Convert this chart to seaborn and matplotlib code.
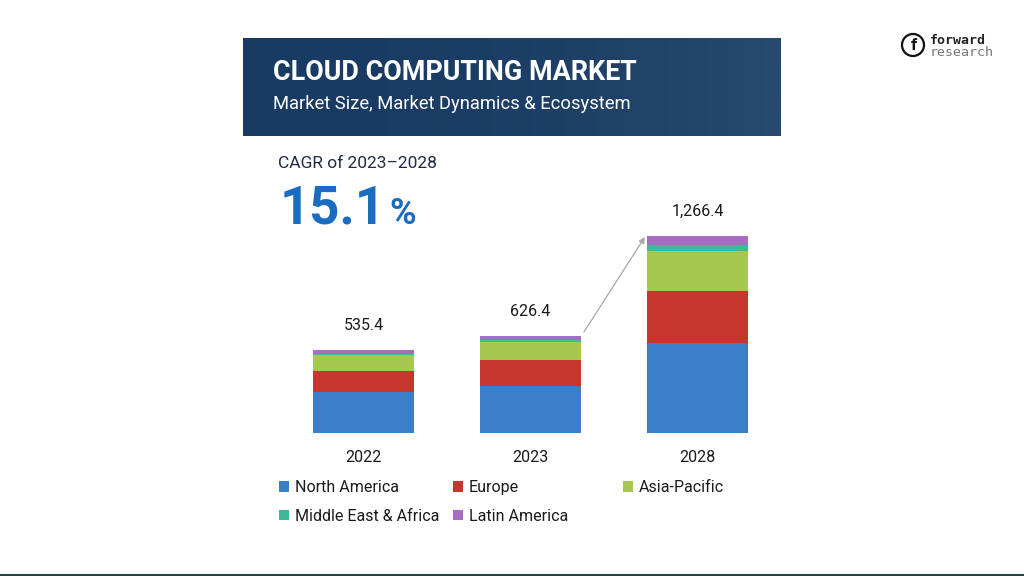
import numpy as np
import pandas as pd
import seaborn as sns
import matplotlib.pyplot as plt
import matplotlib.patches as mpatches
from matplotlib.transforms import IdentityTransform

# ---- data (USD billion) ----
YEARS = ["2022", "2023", "2028"]
TOTALS = [535.4, 626.4, 1266.4]
TOTAL_LABELS = ["535.4", "626.4", "1,266.4"]
NORTH_AMERICA = [262.0, 305.0, 576.0]
EUROPE = [139.0, 162.0, 336.0]
ASIA_PACIFIC = [98.0, 116.0, 259.0]
MIDDLE_EAST_AFRICA = [11.0, 13.4, 41.0]
LATIN_AMERICA = [25.4, 30.0, 54.4]

REGIONS = ["North America", "Europe", "Asia-Pacific",
           "Middle East & Africa", "Latin America"]
COLORS = {
    "North America": "#3a7ec5",
    "Europe": "#c7362c",
    "Asia-Pacific": "#a6c84f",
    "Middle East & Africa": "#3cb89b",
    "Latin America": "#a86cc0",
}

W, H = 1024, 576


def fx(x):
    return x / W


def fy(y):
    return 1 - y / H


sns.set_theme(style="white")
plt.rcParams["font.family"] = ["Roboto", "DejaVu Sans"]

fig = plt.figure(figsize=(W / 100, H / 100), dpi=100)
fig.patch.set_facecolor("white")

# ---- header band, dark navy with a faint lift toward the right ----
hax = fig.add_axes([fx(243), fy(136), (781 - 243) / W, (136 - 38) / H])
grad = np.linspace(0, 1, 256)[None, :]
c0 = np.array([0x19, 0x3a, 0x62]) / 255
c1 = np.array([0x27, 0x4a, 0x70]) / 255
t = grad[..., None] ** 2.0
img = c0[None, None, :] * (1 - t) + c1[None, None, :] * t
hax.imshow(img, aspect="auto", extent=(0, 1, 0, 1))
hax.set_axis_off()

fig.text(fx(273), fy(72), "CLOUD COMPUTING MARKET", color="white",
         fontsize=19.4, fontweight="bold", va="center", ha="left")
fig.text(fx(273), fy(104), "Market Size, Market Dynamics & Ecosystem",
         color="white", fontsize=13.2, va="center", ha="left")

# ---- CAGR callout ----
fig.text(fx(278), fy(163), "CAGR of 2023\u20132028", color="#1f2a44",
         fontsize=12.5, va="center", ha="left")
fig.text(fx(280), fy(224), "15.1", color="#1a6cc1", fontsize=38,
         fontweight="bold", va="baseline", ha="left")
fig.text(fx(389), fy(224), "%", color="#1a6cc1", fontsize=26,
         fontweight="bold", va="baseline", ha="left")

# ---- stacked bars ----
ax = fig.add_axes([fx(280), fy(433), 501 / W, 217.7 / H])
df = pd.DataFrame({
    "year": YEARS,
    "North America": NORTH_AMERICA,
    "Europe": EUROPE,
    "Asia-Pacific": ASIA_PACIFIC,
    "Middle East & Africa": MIDDLE_EAST_AFRICA,
    "Latin America": LATIN_AMERICA,
})
cum = df[REGIONS].cumsum(axis=1)

# draw tallest cumulative first so lower segments sit on top
for reg in REGIONS[::-1]:
    sns.barplot(x=df["year"], y=cum[reg], color=COLORS[reg], saturation=1,
                width=0.61, ax=ax, linewidth=0)

for i, (tot, lab) in enumerate(zip(TOTALS, TOTAL_LABELS)):
    ax.annotate(lab, xy=(i, tot), xytext=(0, 17.5), textcoords="offset points",
                ha="center", va="center", fontsize=11.5, color="#1a1a1a")

ax.annotate("", xy=(2 - 0.305 - 0.01, TOTALS[2] - 6),
            xytext=(1 + 0.305 + 0.015, TOTALS[1] + 23),
            arrowprops=dict(arrowstyle="-|>", color="#a8a8a8", lw=0.9,
                            mutation_scale=9, shrinkA=0, shrinkB=0))

ax.set_xlim(-0.5, 2.5)
ax.set_ylim(0, 1400)
ax.set_yticks([])
ax.set_xlabel("")
ax.set_ylabel("")
ax.tick_params(axis="x", length=0, pad=12.5, labelsize=11.5, labelcolor="#1a1a1a")
ax.set_facecolor("none")
sns.despine(ax=ax, left=True, bottom=True)

# ---- legend, three fixed columns ----
cols = [["North America", "Middle East & Africa"],
        ["Europe", "Latin America"],
        ["Asia-Pacific"]]
col_x = [279, 453, 623]
for names, x0 in zip(cols, col_x):
    handles = [mpatches.Patch(facecolor=COLORS[n], edgecolor="none", label=n)
               for n in names]
    fig.legend(handles=handles, loc="upper left",
               bbox_to_anchor=(fx(x0), fy(480)), frameon=False,
               fontsize=11.5, handlelength=0.65, handleheight=0.65,
               handletextpad=0.35, labelspacing=0.85, borderpad=0,
               borderaxespad=0, labelcolor="#1a1a1a")

# ---- logo ----
fig.patches.append(mpatches.Circle((913, H - 45), 11, transform=IdentityTransform(),
                                   fill=False, edgecolor="#111111", lw=1.6))
fig.text(fx(913.5), fy(45.5), "f", fontsize=12.5, fontweight="bold",
         color="#111111", ha="center", va="center")
fig.text(fx(930), fy(40), "forward", family=["DejaVu Sans Mono"], fontsize=9.5,
         fontweight="bold", color="#222222", ha="left", va="center")
fig.text(fx(930), fy(53), "research", family=["DejaVu Sans Mono"], fontsize=9.5,
         color="#777777", ha="left", va="center")

# thin dark strip along the bottom edge
fig.patches.append(mpatches.Rectangle((0, 0), W, 2, transform=IdentityTransform(),
                                      facecolor="#1d4448", edgecolor="none"))

fig.savefig("out.png", dpi=100)
